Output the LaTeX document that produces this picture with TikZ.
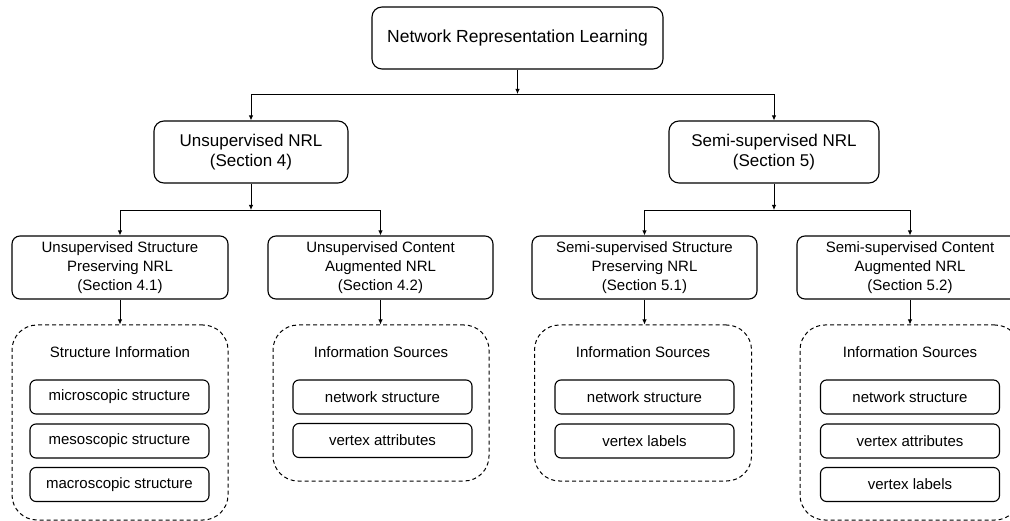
\documentclass[tikz,border=0pt]{standalone}
\usepackage{fontspec}
\setmainfont{Liberation Sans}
\usetikzlibrary{arrows.meta}
\tikzset{
  box/.style={draw, line width=1.1pt, align=center, inner sep=0pt},
  topbox/.style={box, rounded corners=10pt, font=\fontsize{17.5}{21}\selectfont},
  midbox/.style={box, rounded corners=10pt, font=\fontsize{17}{20.5}\selectfont},
  subbox/.style={box, rounded corners=8pt, font=\fontsize{15}{18.8}\selectfont},
  container/.style={draw, line width=1pt, dash pattern=on 4pt off 3pt, rounded corners=25pt, inner sep=0pt},
  title/.style={font=\fontsize{15}{18}\selectfont, inner sep=0pt},
  item/.style={box, rounded corners=6pt, minimum width=179pt, minimum height=34pt, font=\fontsize{15}{18}\selectfont},
  arr/.style={line width=0.9pt, -{Latex[length=5pt,width=4.5pt]}},
}
\begin{document}
\begin{tikzpicture}[x=1pt,y=-1pt]
\useasboundingbox (0,0) rectangle (1010,521);
% level 1
\node[topbox, minimum width=291pt, minimum height=62pt] (top) at (517.5,38) {Network Representation Learning};
% level 2
\node[midbox, minimum width=194pt, minimum height=62pt] (una) at (251,152) {Unsupervised NRL\\(Section 4)};
\node[midbox, minimum width=210pt, minimum height=62pt] (semi) at (774,152) {Semi-supervised NRL\\(Section 5)};
% level 3
\node[subbox, minimum width=216pt, minimum height=63pt] (usp) at (120,267.5) {Unsupervised Structure\\Preserving NRL\\(Section 4.1)};
\node[subbox, minimum width=225pt, minimum height=63pt] (uca) at (380.5,267.5) {Unsupervised Content\\Augmented NRL\\(Section 4.2)};
\node[subbox, minimum width=225pt, minimum height=63pt] (ssp) at (644.5,267.5) {Semi-supervised Structure\\Preserving NRL\\(Section 5.1)};
\node[subbox, minimum width=226pt, minimum height=63pt] (sca) at (910,267.5) {Semi-supervised Content\\Augmented NRL\\(Section 5.2)};
% containers
\node[container, minimum width=216pt, minimum height=195pt] (c1) at (120,422.5) {};
\node[container, minimum width=216pt, minimum height=156pt] (c2) at (381,403) {};
\node[container, minimum width=217pt, minimum height=156pt] (c3) at (643,403) {};
\node[container, minimum width=220pt, minimum height=195pt] (c4) at (910,422.5) {};
% titles
\node[title] (t1) at (120,352) {Structure Information};
\node[title] (t2) at (381,352) {Information Sources};
\node[title] (t3) at (643,352) {Information Sources};
\node[title] (t4) at (910,352) {Information Sources};
% items
\node[item] (i11) at (119.5,397) {microscopic structure};
\node[item] (i12) at (119.5,441) {mesoscopic structure};
\node[item] (i13) at (119.5,484.5) {macroscopic structure};
\node[item] (i21) at (382.5,397) {network structure};
\node[item] (i22) at (382.5,440.5) {vertex attributes};
\node[item] (i31) at (644.5,397) {network structure};
\node[item] (i32) at (644.5,441) {vertex labels};
\node[item] (i41) at (910,397) {network structure};
\node[item] (i42) at (910,441) {vertex attributes};
\node[item] (i43) at (910,484.5) {vertex labels};
% connectors
\coordinate (j1) at (517.5,94);
\coordinate (j2) at (251,210);
\coordinate (j3) at (774,210);
\draw[arr] (top.south) -- (j1);
\draw[arr] (j1) -| (una.north);
\draw[arr] (j1) -| (semi.north);
\draw[arr] (una.south) -- (j2);
\draw[arr] (j2) -| (usp.north);
\draw[arr] (j2) -| (uca.north);
\draw[arr] (semi.south) -- (j3);
\draw[arr] (j3) -| (ssp.north);
\draw[arr] (j3) -| (sca.north);
\draw[arr] (usp.south) -- (usp.south |- c1.north);
\draw[arr] (uca.south) -- (uca.south |- c2.north);
\draw[arr] (ssp.south) -- (ssp.south |- c3.north);
\draw[arr] (sca.south) -- (sca.south |- c4.north);
\end{tikzpicture}
\end{document}
